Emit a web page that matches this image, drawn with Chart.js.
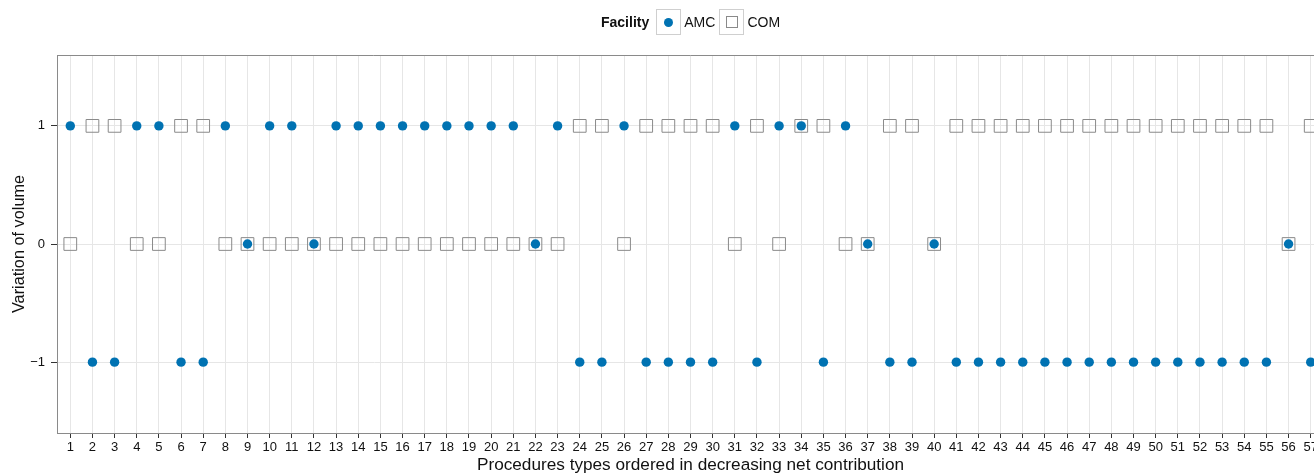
<!DOCTYPE html>
<html>
<head>
<meta charset="utf-8">
<script src="https://cdn.jsdelivr.net/npm/chart.js@4/dist/chart.umd.min.js"></script>
<style>
  html, body { margin: 0; padding: 0; overflow: hidden; background: #fff; }
  #wrap { position: relative; width: 1314px; height: 473px; overflow: hidden; }
  #box { position: absolute; left: 0; top: 0; width: 1340px; height: 473px; }
  #legend { position: absolute; top: 9px; left: 601px; height: 26px; display: flex; align-items: center;
    font-family: "Liberation Sans", Arial, sans-serif; font-size: 14px; color: #111; }
  #legend b { margin-right: 7px; }
  .key { width: 25px; height: 26px; border: 1px solid #cfcfcf; box-sizing: border-box; position: relative; margin-right: 3px; }
  .key .dot { position: absolute; left: 7px; top: 8px; width: 9px; height: 9px; border-radius: 50%; background: #0072B2; }
  .key .sq { position: absolute; left: 6px; top: 6px; width: 12px; height: 12px; border: 1px solid #8a8a8a; box-sizing: border-box; }
  .lab { margin-right: 4px; }
</style>
</head>
<body>
<div id="wrap">
  <div id="box"><canvas id="chart"></canvas></div>
  <div id="legend">
    <b>Facility</b>
    <div class="key"><div class="dot"></div></div><span class="lab">AMC</span>
    <div class="key"><div class="sq"></div></div><span class="lab">COM</span>
  </div>
</div>
<script>
// procedure types 1..57, ordered by net contribution
const procedures = [1,2,3,4,5,6,7,8,9,10,11,12,13,14,15,16,17,18,19,20,21,22,23,24,25,26,27,28,29,30,
  31,32,33,34,35,36,37,38,39,40,41,42,43,44,45,46,47,48,49,50,51,52,53,54,55,56,57];

const amc = [1,-1,-1,1,1,-1,-1,1,0,1,1,0,1,1,1,1,1,1,1,1,1,0,1,-1,-1,1,-1,-1,-1,-1,
  1,-1,1,1,-1,1,0,-1,-1,0,-1,-1,-1,-1,-1,-1,-1,-1,-1,-1,-1,-1,-1,-1,-1,0,-1];

const com = [0,1,1,0,0,1,1,0,0,0,0,0,0,0,0,0,0,0,0,0,0,0,0,1,1,0,1,1,1,1,
  0,1,0,1,1,0,0,1,1,0,1,1,1,1,1,1,1,1,1,1,1,1,1,1,1,0,1];

const yTicks = [-1, 0, 1];
const yTickLabels = ['\u22121', '0', '1'];

const FONT = '"Liberation Sans", Arial, sans-serif';
const GRID = '#e6e6e6';
const AXIS = '#8a8a8a';

const toPoints = (vals) => vals.map((v, i) => ({ x: procedures[i], y: v }));

// top border of the panel
const panelBorder = {
  id: 'panelBorder',
  afterDraw(chart) {
    const { ctx, chartArea } = chart;
    ctx.save();
    ctx.strokeStyle = AXIS;
    ctx.lineWidth = 1;
    ctx.beginPath();
    ctx.moveTo(chartArea.left, Math.round(chartArea.top) + 0.5);
    ctx.lineTo(chartArea.right, Math.round(chartArea.top) + 0.5);
    ctx.stroke();
    ctx.restore();
  }
};

new Chart(document.getElementById('chart'), {
  type: 'scatter',
  data: {
    datasets: [
      {
        label: 'AMC',
        data: toPoints(amc),
        pointStyle: 'circle',
        pointRadius: 4.7,
        pointHoverRadius: 4.7,
        backgroundColor: '#0072B2',
        borderWidth: 0
      },
      {
        label: 'COM',
        data: toPoints(com),
        pointStyle: 'rect',
        pointRadius: 9,
        pointHoverRadius: 9,
        backgroundColor: 'rgba(0,0,0,0)',
        borderColor: '#8a8a8a',
        borderWidth: 1
      }
    ]
  },
  options: {
    responsive: true,
    maintainAspectRatio: false,
    animation: false,
    events: [],
    layout: { padding: { top: 55, right: 16, bottom: 0, left: 0 } },
    plugins: {
      legend: { display: false },
      tooltip: { enabled: false }
    },
    scales: {
      x: {
        type: 'linear',
        min: 0.4,
        max: 57.6,
        afterBuildTicks: (scale) => { scale.ticks = procedures.map(v => ({ value: v })); },
        afterFit: (scale) => { scale.height = 40; },
        grid: { color: GRID, lineWidth: 1, tickColor: '#333', tickLength: 5, tickWidth: 1 },
        border: { display: true, color: AXIS, width: 1 },
        ticks: {
          autoSkip: false, maxRotation: 0, padding: 2,
          color: '#111', font: { family: FONT, size: 13 },
          callback: (v) => String(v)
        },
        title: {
          display: true,
          text: 'Procedures types ordered in decreasing net contribution',
          color: '#111',
          font: { family: FONT, size: 17.2 },
          padding: { top: 0, bottom: -3 }
        }
      },
      y: {
        min: -1.6,
        max: 1.6,
        afterBuildTicks: (scale) => { scale.ticks = yTicks.map(v => ({ value: v })); },
        afterFit: (scale) => { scale.width = 57; },
        grid: { color: GRID, lineWidth: 1, tickColor: '#333', tickLength: 6, tickWidth: 1 },
        border: { display: true, color: AXIS, width: 1 },
        ticks: {
          padding: 6,
          color: '#111', font: { family: FONT, size: 13 },
          callback: (v) => yTickLabels[yTicks.indexOf(v)]
        },
        title: {
          display: true,
          text: 'Variation of volume',
          color: '#111',
          font: { family: FONT, size: 16.3 },
          padding: { top: 10, bottom: 0 }
        }
      }
    }
  },
  plugins: [panelBorder]
});
</script>
</body>
</html>
